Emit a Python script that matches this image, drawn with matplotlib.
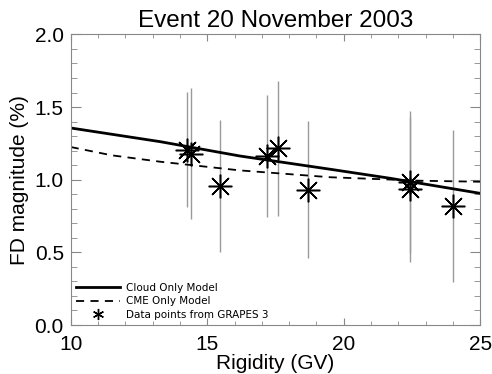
import matplotlib.pyplot as plt
from matplotlib.ticker import MultipleLocator

# GRAPES-3 Forbush decrease magnitudes per rigidity bin
rigidity = [14.27, 14.39, 15.48, 17.20, 17.58, 18.70, 22.42, 22.42, 23.99]
fd_mag = [1.205, 1.18, 0.957, 1.16, 1.215, 0.932, 0.986, 0.934, 0.819]
fd_err = [0.396, 0.45, 0.453, 0.42, 0.467, 0.47, 0.49, 0.50, 0.523]

# model curves
model_rig = [10.0, 13.27, 16.2, 19.5, 21.69, 25.0]
cloud_fd = [1.356, 1.262, 1.163, 1.072, 1.010, 0.906]
cme_rig = [10.0, 11.5, 13.27, 16.2, 19.5, 22.8, 25.0]
cme_fd = [1.225, 1.168, 1.124, 1.064, 1.017, 0.993, 0.986]

plt.rcParams['font.family'] = ['Liberation Sans', 'DejaVu Sans']

fig = plt.figure(figsize=(4.92, 3.74), dpi=100)
ax = fig.add_axes([0.1437, 0.131, 0.8326, 0.777])

ax.errorbar(rigidity, fd_mag, yerr=fd_err, fmt='none', ecolor='#9a9a9a',
            elinewidth=1.0, capsize=0, zorder=1)
ax.plot(model_rig, cloud_fd, color='black', lw=2.0, label='Cloud Only Model', zorder=2)
ax.plot(cme_rig, cme_fd, color='black', lw=1.3, ls=(0, (4.5, 3.5)),
        label='CME Only Model', zorder=2)
ax.plot(rigidity, fd_mag, ls='none', marker=(8, 2, 0), ms=17, mew=1.1,
        color='black', zorder=3)
# small asterisk for the legend entry
ax.plot([], [], ls='none', marker=(6, 2, 0), ms=8, mew=1.0, color='black',
        label='Data points from GRAPES 3')

ax.set_xlim(10, 25)
ax.set_ylim(0, 2)
ax.xaxis.set_major_locator(MultipleLocator(5))
ax.xaxis.set_minor_locator(MultipleLocator(1))
ax.yaxis.set_major_locator(MultipleLocator(0.5))
ax.yaxis.set_minor_locator(MultipleLocator(0.1))
ax.yaxis.set_major_formatter(plt.FormatStrFormatter('%.1f'))

for s in ax.spines.values():
    s.set_color('#888888')
ax.tick_params(axis='both', which='both', direction='in', top=True, right=True,
               color='#888888', labelsize=15)
ax.tick_params(axis='x', which='major', length=5, pad=7)
ax.tick_params(axis='x', which='minor', length=3)
ax.tick_params(axis='y', which='major', length=7, pad=5)
ax.tick_params(axis='y', which='minor', length=4)

ax.set_xlabel('Rigidity (GV)', fontsize=15, labelpad=0)
ax.set_ylabel('FD magnitude (%)', fontsize=15, labelpad=4)
ax.set_title('Event 20 November 2003', fontsize=17.5, pad=5)

ax.legend(loc='lower left', frameon=False, prop={'family': 'DejaVu Sans', 'size': 7.5},
          handlelength=4.2, handletextpad=0.6, labelspacing=0.35,
          borderaxespad=0.2, borderpad=0.3)

fig.savefig('out.png', dpi=100)
